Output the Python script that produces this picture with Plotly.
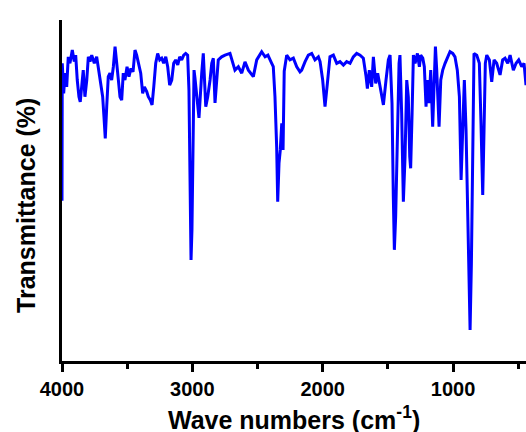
import plotly.graph_objects as go

wavenumber = [4000, 3998, 3987, 3977, 3964, 3952, 3939, 3921, 3906, 3895, 3883, 3870, 3860, 3849, 3837,
              3824, 3810, 3798, 3785, 3772, 3752, 3734, 3716, 3701, 3688, 3678, 3668, 3657, 3645, 3632,
              3619, 3606, 3593, 3580, 3568, 3555, 3542, 3530, 3517, 3501, 3486, 3471, 3455, 3440, 3427,
              3414, 3396, 3381, 3368, 3350, 3338, 3322, 3309, 3296, 3281, 3266, 3250, 3235, 3220, 3204,
              3189, 3174, 3158, 3143, 3128, 3112, 3097, 3082, 3066, 3051, 3036, 3026, 3018, 3010, 3003,
              2995, 2987, 2980, 2966, 2949, 2928, 2916, 2897, 2882, 2864, 2851, 2839, 2826, 2801, 2775,
              2749, 2711, 2673, 2647, 2621, 2596, 2570, 2532, 2506, 2468, 2442, 2420, 2391, 2379, 2366,
              2353, 2345, 2335, 2325, 2314, 2304, 2295, 2276, 2251, 2225, 2199, 2174, 2161, 2135, 2110,
              2084, 2059, 2033, 2020, 2000, 1982, 1964, 1944, 1918, 1892, 1867, 1841, 1816, 1790, 1765,
              1739, 1713, 1688, 1667, 1657, 1642, 1624, 1611, 1593, 1578, 1560, 1534, 1514, 1496, 1483,
              1468, 1458, 1450, 1440, 1427, 1414, 1407, 1394, 1381, 1368, 1355, 1343, 1332, 1325, 1314,
              1304, 1291, 1273, 1258, 1248, 1232, 1220, 1207, 1197, 1184, 1171, 1156, 1146, 1135, 1125,
              1115, 1107, 1094, 1079, 1061, 1043, 1023, 1002, 985, 967, 951, 938, 926, 913, 900,
              887, 869, 859, 849, 839, 818, 798, 785, 772, 762, 752, 741, 721, 703, 685,
              665, 639, 619, 601, 580, 562, 537, 516, 496, 473, 455, 440]

transmittance = [47.0, 87.3, 78.5, 84.4, 80.4, 89.2, 87.3, 91.2, 87.8, 89.7, 82.4, 77.5, 76.0, 80.4, 85.3,
                 77.5, 82.4, 89.2, 87.8, 89.7, 87.3, 89.2, 84.4, 80.4, 77.5, 71.6, 65.3, 74.6, 83.4, 84.4,
                 82.4, 86.3, 92.2, 87.3, 82.4, 77.5, 76.5, 84.4, 82.4, 86.3, 83.4, 85.8, 84.8, 91.2, 89.7,
                 87.3, 84.4, 78.5, 80.4, 79.0, 77.5, 76.5, 75.1, 80.4, 87.3, 90.2, 88.3, 88.8, 87.3, 89.2,
                 86.3, 80.9, 82.4, 87.3, 88.3, 86.8, 89.2, 88.3, 89.7, 90.2, 89.7, 79.5, 53.1, 29.6, 38.4,
                 67.7, 85.3, 83.1, 77.5, 71.3, 84.4, 90.2, 74.6, 77.5, 82.4, 87.3, 88.8, 75.7, 88.3, 89.2,
                 89.7, 90.2, 85.3, 86.3, 84.4, 87.7, 85.3, 83.4, 88.3, 90.7, 89.2, 89.7, 87.3, 86.3, 77.5,
                 62.8, 46.7, 58.0, 61.9, 69.7, 61.9, 85.0, 89.7, 88.3, 88.8, 86.3, 84.8, 85.3, 87.8, 89.7,
                 90.2, 88.3, 89.2, 87.8, 82.4, 74.6, 81.4, 89.2, 89.7, 87.3, 87.8, 86.8, 87.8, 87.3, 89.2,
                 90.2, 89.7, 88.8, 83.4, 79.9, 85.3, 80.4, 89.2, 81.4, 84.4, 80.4, 75.1, 82.4, 88.3, 89.7,
                 75.6, 48.2, 32.6, 42.3, 67.7, 87.3, 89.7, 72.6, 46.7, 59.9, 82.4, 77.5, 59.9, 56.5, 72.6,
                 89.7, 87.3, 90.2, 86.3, 89.7, 88.8, 86.3, 74.6, 82.4, 75.6, 85.3, 68.7, 82.4, 92.2, 85.3,
                 77.5, 68.7, 82.4, 85.3, 87.3, 89.2, 90.7, 90.2, 89.2, 85.3, 77.5, 53.1, 67.7, 82.4, 67.7,
                 38.4, 9.1, 28.6, 67.7, 90.2, 89.7, 87.3, 69.4, 48.7, 67.7, 87.3, 89.7, 88.3, 81.9, 88.3,
                 87.3, 83.9, 88.3, 88.8, 87.3, 89.7, 85.3, 87.3, 88.3, 86.3, 87.3, 80.9]

x_tick_values = [4000, 3000, 2000, 1000]
x_tick_labels = ["4000", "3000", "2000", "1000"]
x_minor_values = [3500, 2500, 1500, 500]

fig = go.Figure()
fig.add_trace(go.Scatter(
    x=wavenumber, y=transmittance, mode="lines",
    line=dict(color="#0000ff", width=3),
    showlegend=False, hoverinfo="skip",
))

font_family = "Liberation Sans, Arial, sans-serif"

fig.update_layout(
    width=526, height=432,
    margin=dict(l=62, r=0, t=20, b=71),
    paper_bgcolor="white", plot_bgcolor="white",
    font=dict(family=font_family, color="black"),
    xaxis=dict(
        range=[4000, 440],
        tickvals=x_tick_values, ticktext=x_tick_labels,
        ticks="outside", ticklen=8, tickwidth=3, tickcolor="black",
        minor=dict(tickvals=x_minor_values, ticks="outside", ticklen=5,
                   tickwidth=3, tickcolor="black", showgrid=False),
        showline=True, linewidth=3, linecolor="black",
        showgrid=False, zeroline=False,
        tickfont=dict(size=20, family=font_family, color="black", weight="bold"),
    ),
    yaxis=dict(
        range=[0, 100],
        showticklabels=False, ticks="",
        showline=True, linewidth=3, linecolor="black",
        showgrid=False, zeroline=False,
    ),
    annotations=[
        dict(text="Wave numbers (cm<sup>-1</sup>)", xref="paper", yref="paper",
             x=0.5, y=-0.168, xanchor="center", yanchor="middle", showarrow=False,
             font=dict(size=25, family=font_family, color="black", weight="bold")),
        dict(text="Transmittance (%)", xref="paper", yref="paper",
             x=-0.078, y=0.457, xanchor="center", yanchor="middle", showarrow=False,
             textangle=-90,
             font=dict(size=25, family=font_family, color="black", weight="bold")),
    ],
)

fig.write_html("out.html")
